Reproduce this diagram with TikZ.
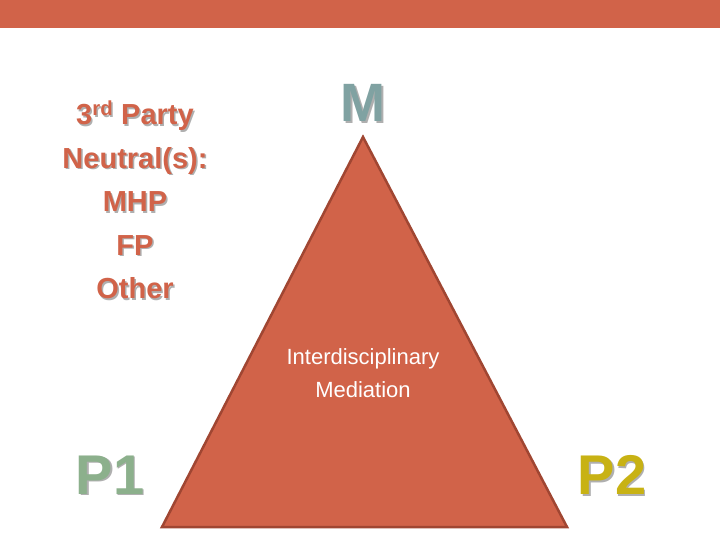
\documentclass[tikz,border=0pt]{standalone}
\usepackage{fontspec}
\setmainfont{Liberation Sans}
\definecolor{rust}{RGB}{209,99,73}
\definecolor{rustdark}{RGB}{160,70,50}
\definecolor{mgray}{RGB}{128,162,162}
\definecolor{pgreen}{RGB}{140,176,140}
\definecolor{pyellow}{RGB}{200,178,20}
\definecolor{shade}{RGB}{175,175,175}
\tikzset{x=1pt,y=-1pt,
 lbl/.style={font=\bfseries, align=center},
 sh/.style={lbl,text=shade}}
\begin{document}
\begin{tikzpicture}
\useasboundingbox (0,0) rectangle (720,540);
\fill[rust] (0,0) rectangle (720,28);
\coordinate (apex) at (363,137);
\coordinate (bl) at (162,527);
\coordinate (br) at (567,527);
\filldraw[fill=rust,draw=rustdark,line width=2.5pt,line join=miter] (apex) -- (br) -- (bl) -- cycle;
\node[sh,font=\fontsize{29}{43.5}\selectfont\bfseries] (lefts) at (136.5,201.5) {3\textsuperscript{rd} Party\\Neutral(s):\\MHP\\FP\\Other};
\node[lbl,text=rust,font=\fontsize{29}{43.5}\selectfont\bfseries] (left) at (135,200) {3\textsuperscript{rd} Party\\Neutral(s):\\MHP\\FP\\Other};
\node[sh,font=\fontsize{54}{60}\selectfont\bfseries] (ms) at (364.5,104.5) {M};
\node[lbl,text=mgray,font=\fontsize{54}{60}\selectfont\bfseries] (m) at (363,103) {M};
\node[sh,font=\fontsize{56}{60}\selectfont\bfseries] (p1s) at (111.5,476.5) {P1};
\node[lbl,text=pgreen,font=\fontsize{56}{60}\selectfont\bfseries] (p1) at (110,475) {P1};
\node[sh,font=\fontsize{56}{60}\selectfont\bfseries] (p2s) at (613.5,476.5) {P2};
\node[lbl,text=pyellow,font=\fontsize{56}{60}\selectfont\bfseries] (p2) at (612,475) {P2};
\node[text=white,align=center,font=\fontsize{22}{33}\selectfont] (mid) at (363,373) {Interdisciplinary\\Mediation};
\end{tikzpicture}
\end{document}
